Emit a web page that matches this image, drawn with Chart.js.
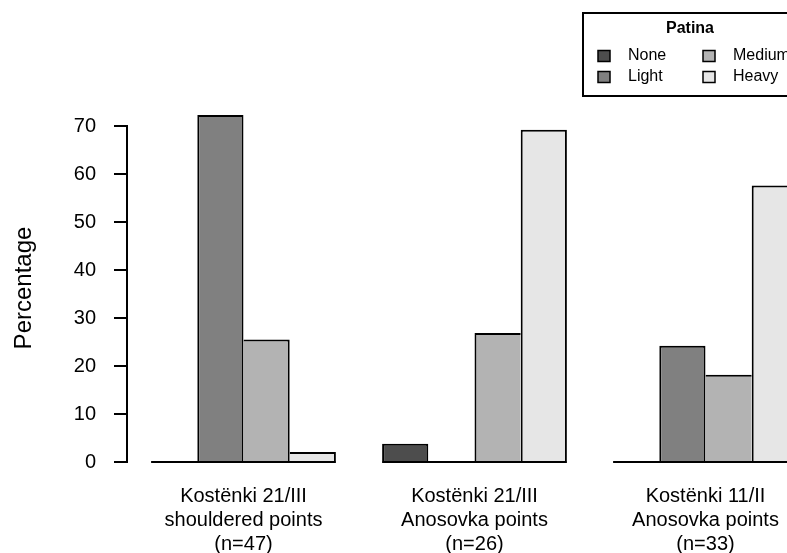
<!DOCTYPE html>
<html>
<head>
<meta charset="utf-8">
<script src="https://cdn.jsdelivr.net/npm/chart.js@4.4.0/dist/chart.umd.min.js"></script>
<style>
    html, body { margin: 0; padding: 0; background: #fff; overflow: hidden; }
    #wrap { width: 830px; height: 553px; }
</style>
</head>
<body>
<div id="wrap"><canvas id="chart" width="830" height="553"></canvas></div>
<script>
// data
const categories = [
    ['Kostënki 21/III', 'shouldered points', '(n=47)'],
    ['Kostënki 21/III', 'Anosovka points', '(n=26)'],
    ['Kostënki 11/II', 'Anosovka points', '(n=33)']
];
const seriesNames = ['None', 'Light', 'Medium', 'Heavy'];
const noneValues = [0, 3.8, 0];
const lightValues = [72.3, 0, 24.2];
const mediumValues = [25.5, 26.9, 18.2];
const heavyValues = [2.1, 69.2, 57.6];
const yTicks = [0, 10, 20, 30, 40, 50, 60, 70];
const legendTitle = 'Patina';
const yTitle = 'Percentage';

const colors = ['#4d4d4d', '#808080', '#b3b3b3', '#e6e6e6'];
const allValues = [noneValues, lightValues, mediumValues, heavyValues];
const FONT = "'Liberation Sans', Arial, sans-serif";

Chart.defaults.font.family = FONT;
Chart.defaults.color = '#000';

// shared edges: only the taller bar draws the line, like R does
const edgeWidth = (ctx) => {
    const i = ctx.datasetIndex, j = ctx.dataIndex;
    if (j === undefined) return 2;
    const cur = allValues[i][j];
    const prev = i > 0 ? allValues[i - 1][j] : 0;
    const next = i < allValues.length - 1 ? allValues[i + 1][j] : 0;
    return {
        top: 2,
        bottom: 0,
        left: prev < cur ? 2 : 0,
        right: next <= cur ? 2 : 0
    };
};

// R style y axis line (0..70 only) and the zero line under every group
const rAxes = {
    id: 'rAxes',
    afterDatasetsDraw(chart) {
        const c = chart.ctx;
        const y = chart.scales.y;
        const y0 = y.getPixelForValue(0);
        c.save();
        c.strokeStyle = '#000';
        c.lineWidth = 2;
        c.beginPath();
        c.moveTo(chart.chartArea.left - 1, y.getPixelForValue(yTicks[0]) + 1);
        c.lineTo(chart.chartArea.left - 1, y.getPixelForValue(yTicks[yTicks.length - 1]) - 1);
        c.stroke();

        categories.forEach((cat, j) => {
            let lo = Infinity, hi = -Infinity;
            chart.data.datasets.forEach((ds, i) => {
                const bar = chart.getDatasetMeta(i).data[j];
                lo = Math.min(lo, bar.x - bar.width / 2);
                hi = Math.max(hi, bar.x + bar.width / 2);
            });
            c.beginPath();
            c.moveTo(lo, y0);
            c.lineTo(hi, y0);
            c.stroke();
        });
        c.restore();
    }
};

// boxed legend in two columns, top right
const boxLegend = {
    id: 'boxLegend',
    afterDraw(chart) {
        const c = chart.ctx;
        c.save();
        c.strokeStyle = '#000';
        c.lineWidth = 2;
        c.strokeRect(583, 13, 222, 83);

        c.fillStyle = '#000';
        c.font = 'bold 16px ' + FONT;
        c.textAlign = 'center';
        c.textBaseline = 'middle';
        c.fillText(legendTitle, 690, 29);

        c.font = '16px ' + FONT;
        c.textAlign = 'left';
        const colX = [598, 703];
        const rowY = [56, 77];
        chart.data.datasets.forEach((ds, k) => {
            const x = colX[Math.floor(k / 2)];
            const yy = rowY[k % 2];
            c.fillStyle = ds.backgroundColor;
            c.fillRect(x, yy - 5.5, 12, 11);
            c.lineWidth = 1.5;
            c.strokeRect(x, yy - 5.5, 12, 11);
            c.fillStyle = '#000';
            c.fillText(ds.label, x + 30, yy);
        });
        c.restore();
    }
};

new Chart(document.getElementById('chart'), {
    type: 'bar',
    data: {
        labels: categories,
        datasets: seriesNames.map((name, i) => ({
            label: name,
            data: allValues[i],
            backgroundColor: colors[i],
            borderColor: '#000',
            borderWidth: edgeWidth,
            borderSkipped: false
        }))
    },
    options: {
        responsive: false,
        animation: false,
        devicePixelRatio: 1,
        categoryPercentage: 0.8,
        barPercentage: 1.0,
        layout: { padding: { left: 0, right: 9, top: 114, bottom: 0 } },
        plugins: {
            legend: { display: false },
            tooltip: { enabled: false }
        },
        scales: {
            x: {
                grid: { display: false, drawTicks: false },
                border: { display: false },
                ticks: {
                    font: { size: 20, lineHeight: 1.2 },
                    padding: 22,
                    maxRotation: 0,
                    autoSkip: false
                },
                afterFit: (s) => { s.height = 91; }
            },
            y: {
                min: 0,
                max: 72.5,
                afterBuildTicks: (s) => { s.ticks = yTicks.map(v => ({ value: v })); },
                grid: { drawOnChartArea: false, drawTicks: true, tickLength: 14, color: '#000', lineWidth: 2 },
                border: { display: false },
                ticks: { font: { size: 20 }, padding: 18 },
                title: {
                    display: true,
                    text: yTitle,
                    font: { size: 24 },
                    padding: { top: 10, bottom: 0 }
                },
                afterFit: (s) => { s.width = 128; }
            }
        }
    },
    plugins: [rAxes, boxLegend]
});
</script>
</body>
</html>
